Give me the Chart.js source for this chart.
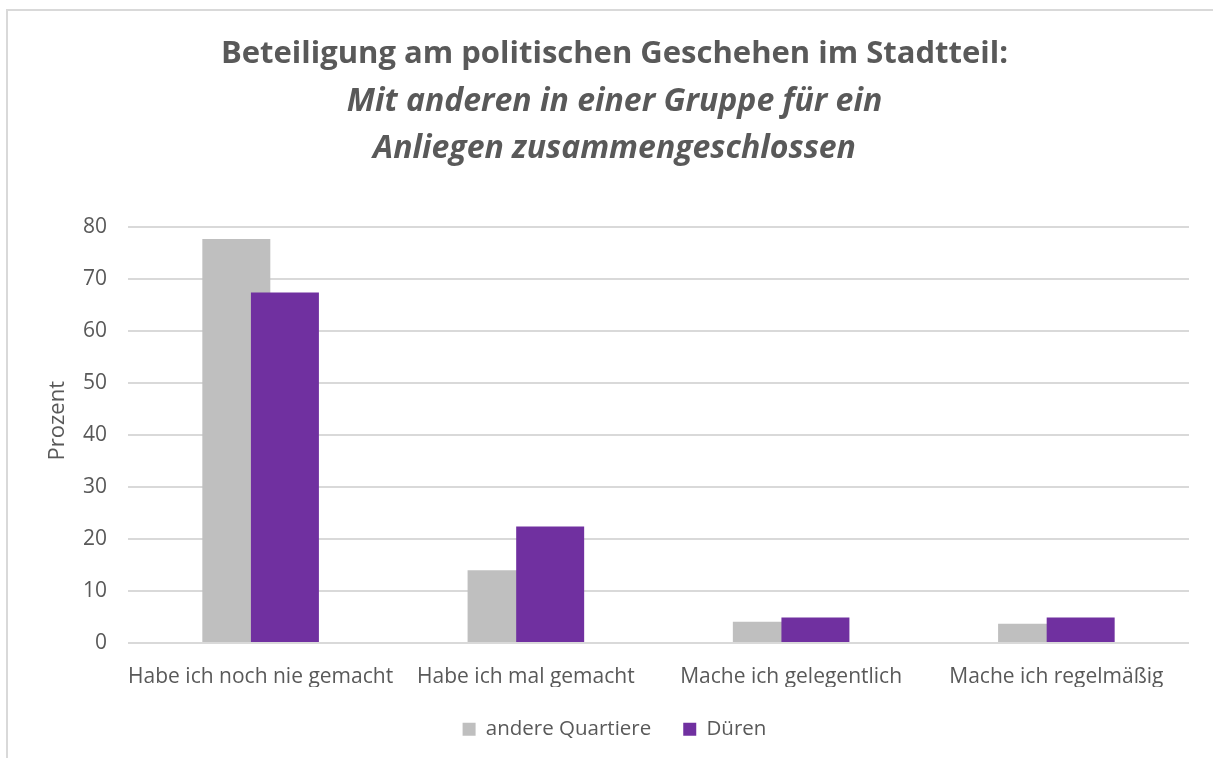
<!DOCTYPE html>
<html>
<head>
<meta charset="utf-8">
<script src="https://cdn.jsdelivr.net/npm/chart.js@4/dist/chart.umd.min.js"></script>
<style>
  html, body { margin: 0; padding: 0; background: #ffffff; }
  #wrap { position: relative; width: 1213px; height: 758px; overflow: hidden; }
  #frame { position: absolute; left: 6px; top: 9px; width: 1300px; height: 900px;
           border-top: 2px solid #d9d9d9; border-left: 2px solid #d9d9d9; pointer-events: none; }
  canvas { position: absolute; left: 0; top: 0; }
</style>
</head>
<body>
<div id="wrap">
  <canvas id="c" width="1213" height="758"></canvas>
  <div id="frame"></div>
</div>
<script>
const titleLine = 'Beteiligung am politischen Geschehen im Stadtteil:';
const subtitleLines = ['Mit anderen in einer Gruppe für ein', 'Anliegen zusammengeschlossen'];
const categories = ['Habe ich noch nie gemacht', 'Habe ich mal gemacht', 'Mache ich gelegentlich', 'Mache ich regelmäßig'];
const seriesNames = ['andere Quartiere', 'Düren'];
const andereQuartiere = [77.7, 14.0, 4.1, 3.7];
const dueren = [67.4, 22.4, 4.9, 4.9];
const yTicks = [0, 10, 20, 30, 40, 50, 60, 70, 80];
const yAxisTitle = 'Prozent';

const textColor = '#595959';
const font = 'Open Sans';

// draw the grey series first so the purple bars overlap it
const drawOrder = {
  id: 'drawOrder',
  beforeDatasetsDraw(chart) {
    const m = chart.getDatasetMeta(0);
    if (m && !m.hidden) m.controller.draw();
  },
  beforeDatasetDraw(chart, args) {
    if (args.index === 0) return false;
  }
};

new Chart(document.getElementById('c'), {
  type: 'bar',
  data: {
    labels: categories,
    datasets: [
      { label: seriesNames[0], data: andereQuartiere, backgroundColor: '#bfbfbf', borderWidth: 0,
        categoryPercentage: 0.3664, barPercentage: 1.399 },
      { label: seriesNames[1], data: dueren, backgroundColor: '#7030a0', borderWidth: 0,
        categoryPercentage: 0.3664, barPercentage: 1.399 }
    ]
  },
  plugins: [drawOrder],
  options: {
    responsive: false,
    animation: false,
    layout: { padding: { left: 40, right: 24, top: 0, bottom: 8.4 } },
    plugins: {
      title: {
        display: true, text: titleLine, color: textColor,
        font: { family: font, size: 31, weight: 'bold', lineHeight: '47px' },
        padding: { top: 31, bottom: 0 }
      },
      subtitle: {
        display: true, text: subtitleLines, color: textColor,
        font: { family: font, size: 32, weight: 'bold', style: 'italic', lineHeight: '47px' },
        padding: { top: 0, bottom: 55 }
      },
      legend: {
        position: 'bottom',
        labels: { color: textColor, font: { family: font, size: 20.5 }, boxWidth: 13, boxHeight: 13, padding: 32 }
      },
      tooltip: { enabled: false }
    },
    scales: {
      x: {
        afterFit(scale) { scale.height = 44; },
        grid: { display: false, drawTicks: false },
        border: { display: false },
        ticks: { color: textColor, font: { family: font, size: 21 }, padding: 21, maxRotation: 0, autoSkip: false }
      },
      y: {
        min: 0, max: 80,
        afterBuildTicks(scale) { scale.ticks = yTicks.map(v => ({ value: v })); },
        afterFit(scale) { scale.width = 88; },
        grid: { color: '#d9d9d9', lineWidth: 2, drawTicks: false },
        border: { display: false },
        ticks: { color: textColor, font: { family: font, size: 21 }, padding: 21 },
        title: { display: true, text: '     ' + yAxisTitle, color: textColor,
                 font: { family: font, size: 22 }, padding: { top: 5, bottom: 0 } }
      }
    }
  }
});
</script>
</body>
</html>
